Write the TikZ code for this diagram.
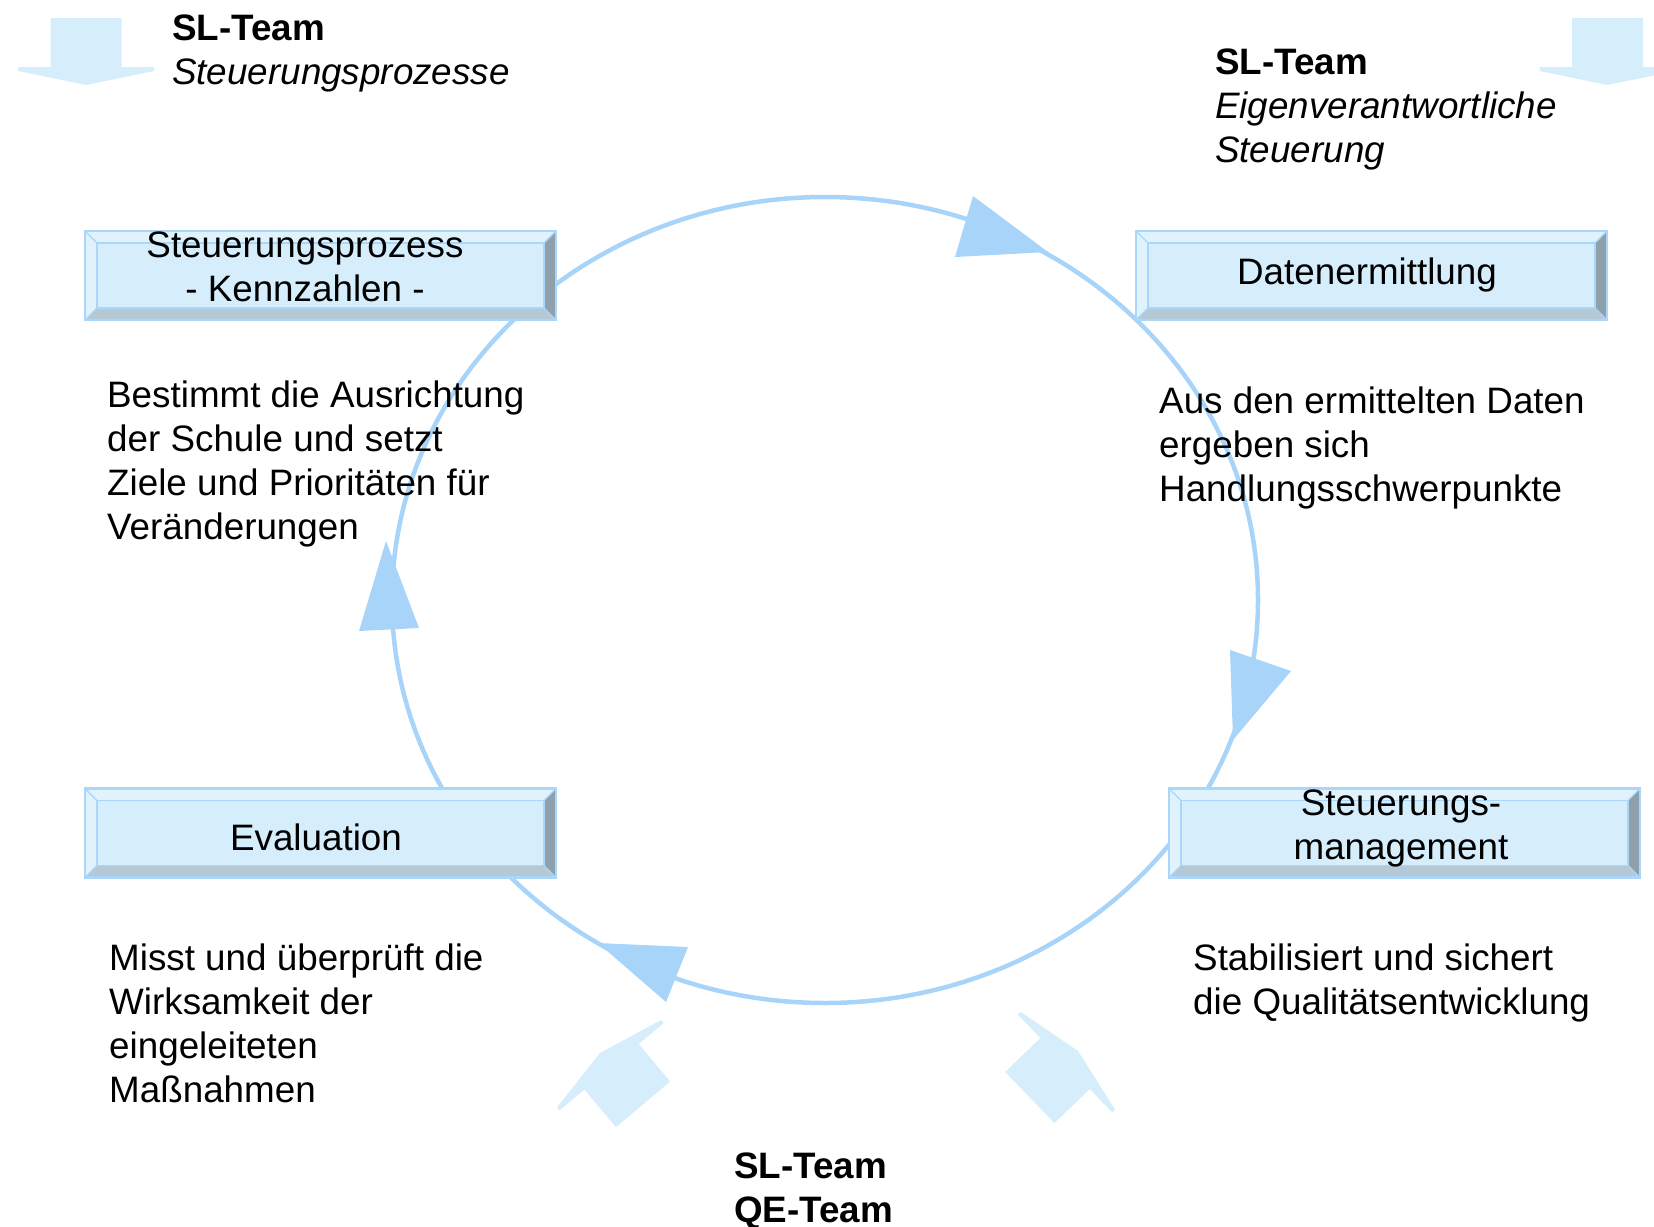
\documentclass[tikz,border=0pt]{standalone}
\usepackage{fontspec}
\setmainfont{Liberation Sans}
\usetikzlibrary{calc}

\definecolor{ringblue}{RGB}{168,212,250}
\definecolor{paleblue}{RGB}{214,238,252}
\definecolor{boxedge}{RGB}{170,214,250}
\definecolor{bevellight}{RGB}{224,243,253}
\definecolor{beveldark}{RGB}{142,160,170}
\definecolor{bevelmid}{RGB}{180,200,214}

% multi-line text nodes are anchored at the baseline of their last line
\tikzset{
  txt/.style={inner sep=0pt, font={\fontsize{36.8}{44}\selectfont}},
  desc/.style={txt, anchor=base west, align=left},
  boxlabel/.style={txt, anchor=base, align=center},
  ring/.style={draw=ringblue, line width=4.5pt},
  ringtip/.style={fill=ringblue},
  blockarrow/.style={fill=paleblue},
  bevelbox/.style={
    rectangle, inner sep=0pt, minimum width=471pt, minimum height=89pt,
    fill=paleblue, draw=boxedge, line width=2.5pt,
    path picture={
      \path (path picture bounding box.north west) coordinate (nw)
            (path picture bounding box.north east) coordinate (ne)
            (path picture bounding box.south east) coordinate (se)
            (path picture bounding box.south west) coordinate (sw);
      \coordinate (inw) at ([shift={(12pt,-12pt)}]nw);
      \coordinate (ine) at ([shift={(-12pt,-12pt)}]ne);
      \coordinate (ise) at ([shift={(-12pt,12pt)}]se);
      \coordinate (isw) at ([shift={(12pt,12pt)}]sw);
      \fill[bevellight] (nw) -- (ne) -- (ine) -- (inw) -- cycle;
      \fill[bevellight] (nw) -- (inw) -- (isw) -- (sw) -- cycle;
      \fill[beveldark] (ne) -- (se) -- (ise) -- (ine) -- cycle;
      \fill[bevelmid] (sw) -- (isw) -- (ise) -- (se) -- cycle;
      \draw[boxedge, line width=1.2pt] (nw) -- (inw) (ne) -- (ine) (se) -- (ise) (sw) -- (isw);
      \draw[boxedge, line width=1.8pt] (inw) rectangle (ise);
    }
  }
}

% broad block arrow, tip at the origin, pointing along +x
\newcommand{\blockarrowpath}{(0pt,0pt) -- (-14pt,68pt) -- (-18pt,68pt) -- (-18pt,35.5pt)
  -- (-67pt,35.5pt) -- (-67pt,-35.5pt) -- (-18pt,-35.5pt) -- (-18pt,-68pt)
  -- (-14pt,-68pt) -- cycle}

\begin{document}
\begin{tikzpicture}[x=1pt,y=-1pt]
\useasboundingbox (0,0) rectangle (1654,1226);

% the cycle ring
\draw[ring] (825,600) ellipse [x radius=433pt, y radius=403pt];
\fill[ringtip] (973,196) -- (955,257) -- (1048,252) -- cycle;
\fill[ringtip] (1230,650) -- (1291,671) -- (1233,740) -- cycle;
\fill[ringtip] (688,947) -- (666,1002) -- (598,943) -- cycle;
\fill[ringtip] (359,631) -- (419,628) -- (386,541) -- cycle;

% block arrows pointing into the cycle
\begin{scope}
  \clip (0,0) rectangle (1654,1226);
  \fill[blockarrow, shift={(86,85)}, rotate=-90] \blockarrowpath;
  \fill[blockarrow, shift={(1607.5,85)}, rotate=-90] \blockarrowpath;
  \fill[blockarrow, shift={(600,1053)}, rotate=130] \blockarrowpath;
  \fill[blockarrow, shift={(1078,1051)}, rotate=44] \blockarrowpath;
\end{scope}

% process boxes
\node[bevelbox] (kz) at (320.5,275.5) {};
\node[bevelbox] (de) at (1371.5,275.5) {};
\node[bevelbox] (ev) at (320.5,833) {};
\node[bevelbox] (sm) at (1404.5,833) {};

\node[boxlabel] (kzt) at (305,301) {Steuerungsprozess\\- Kennzahlen -};
\node[boxlabel] (det) at (1367,284) {Datenermittlung};
\node[boxlabel] (evt) at (316,850) {Evaluation};
\node[boxlabel] (smt) at (1401,859) {Steuerungs-\\management};

% team headings
\node[desc] (hTL) at (172,84) {\textbf{SL-Team}\\\textit{Steuerungsprozesse}};
\node[desc] (hTR) at (1215,162) {\textbf{SL-Team}\\\textit{Eigenverantwortliche}\\\textit{Steuerung}};
\node[desc] (hB) at (734,1222) {\textbf{SL-Team}\\\textbf{QE-Team}};

% descriptions
\node[desc] (dKZ) at (107,539) {Bestimmt die Ausrichtung\\der Schule und setzt\\Ziele und Prioritäten für\\Veränderungen};
\node[desc] (dDE) at (1159,501) {Aus den ermittelten Daten\\ergeben sich\\Handlungsschwerpunkte};
\node[desc] (dEV) at (109,1102) {Misst und überprüft die\\Wirksamkeit der\\eingeleiteten\\Maßnahmen};
\node[desc] (dSM) at (1193,1014) {Stabilisiert und sichert\\die Qualitätsentwicklung};
\end{tikzpicture}
\end{document}
